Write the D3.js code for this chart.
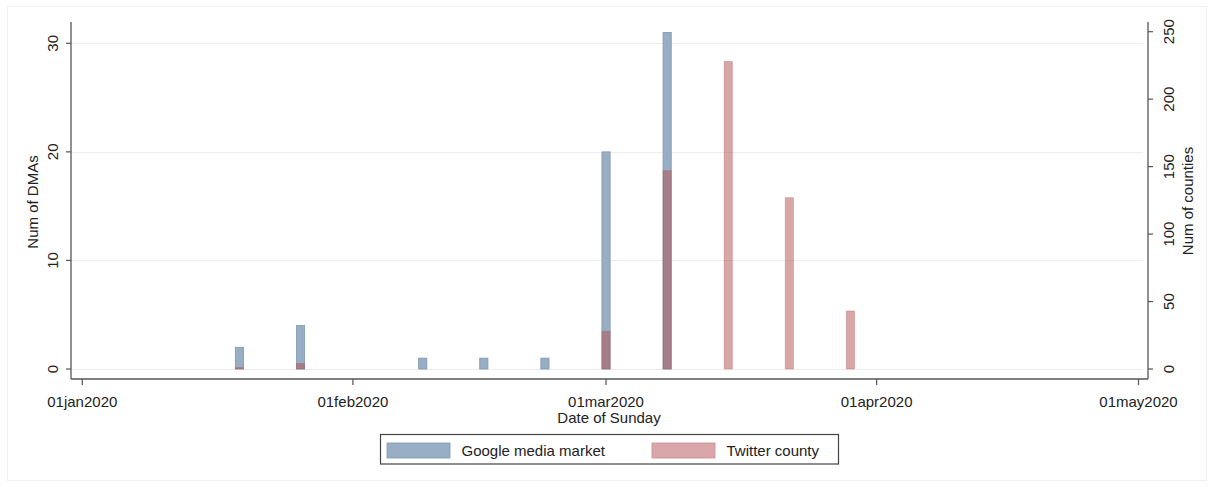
<!DOCTYPE html>
<html>
<head>
<meta charset="utf-8">
<script src="https://cdn.jsdelivr.net/npm/d3@7"></script>
<style>
  html, body { margin: 0; padding: 0; background: #fff; }
  svg { display: block; font-family: "Liberation Sans", Arial, sans-serif; }
</style>
</head>
<body>
<svg id="chart" width="1214" height="487"></svg>
<script>
// ---- data ----
const weeks = ["2020-01-19","2020-01-26","2020-02-09","2020-02-16","2020-02-23","2020-03-01","2020-03-08","2020-03-15","2020-03-22","2020-03-29"];
const googleDMAs = [2, 4, 1, 1, 1, 20, 31, 0, 0, 0];
const twitterCounties = [1, 4, 0, 0, 0, 28, 147, 228, 127, 43];
const xTickLabels = ["01jan2020","01feb2020","01mar2020","01apr2020","01may2020"];
const xTickDates = ["2020-01-01","2020-02-01","2020-03-01","2020-04-01","2020-05-01"];
const leftTicks = [0, 10, 20, 30];
const rightTicks = [0, 50, 100, 150, 200, 250];
const seriesNames = ["Google media market", "Twitter county"];

// ---- layout ----
const svg = d3.select("#chart");
const parse = d3.utcParse("%Y-%m-%d");
const axisColor = "#555";
const plotL = 71, plotR = 1148, plotB = 379, plotT = 22;

const x = d3.scaleUtc()
  .domain([parse("2020-01-01"), parse("2020-05-01")])
  .range([82.3, 1138.5]);
const yL = d3.scaleLinear().domain([0, 30]).range([369, 43.3]);
const yR = d3.scaleLinear().domain([0, 250]).range([369, 31.7]);

// outer faint frame
svg.append("rect").attr("x", 7.5).attr("y", 6.5).attr("width", 1199).attr("height", 474)
  .attr("fill", "none").attr("stroke", "#f0f0f0").attr("stroke-width", 1);

// gridlines
svg.append("g").selectAll("line").data(leftTicks).join("line")
  .attr("x1", plotL + 1).attr("x2", 1143)
  .attr("y1", d => Math.round(yL(d)) + 0.5).attr("y2", d => Math.round(yL(d)) + 0.5)
  .attr("stroke", "#ececec").attr("stroke-width", 1.2);

// bars
const barW = 8.2;
const bars = svg.append("g");
bars.selectAll("rect.g").data(weeks.map((w, i) => ({d: parse(w), v: googleDMAs[i]})).filter(o => o.v > 0))
  .join("rect").attr("class", "g")
  .attr("x", o => x(o.d) - barW / 2).attr("width", barW)
  .attr("y", o => yL(o.v)).attr("height", o => yL(0) - yL(o.v))
  .attr("fill", "rgb(152,174,196)").attr("stroke", "rgb(128,150,174)").attr("stroke-width", 0.8);
bars.selectAll("rect.t").data(weeks.map((w, i) => ({d: parse(w), v: twitterCounties[i]})).filter(o => o.v > 0))
  .join("rect").attr("class", "t")
  .attr("x", o => x(o.d) - barW / 2).attr("width", barW)
  .attr("y", o => yR(o.v)).attr("height", o => yR(0) - yR(o.v))
  .attr("fill", "rgb(177,78,78)").attr("fill-opacity", 0.5)
  .attr("stroke", "rgb(177,78,78)").attr("stroke-opacity", 0.35).attr("stroke-width", 0.8);

// axes lines
const axes = svg.append("g").attr("stroke", axisColor).attr("stroke-width", 1.3);
axes.append("line").attr("x1", plotL).attr("x2", plotL).attr("y1", plotT).attr("y2", plotB);
axes.append("line").attr("x1", plotR).attr("x2", plotR).attr("y1", plotT).attr("y2", plotB);
axes.append("line").attr("x1", plotL).attr("x2", plotR).attr("y1", plotB).attr("y2", plotB);

// left ticks
const lt = svg.append("g");
lt.selectAll("line").data(leftTicks).join("line")
  .attr("x1", plotL - 5).attr("x2", plotL).attr("y1", d => yL(d)).attr("y2", d => yL(d))
  .attr("stroke", axisColor).attr("stroke-width", 1.2);
lt.selectAll("text").data(leftTicks).join("text")
  .attr("transform", d => `translate(52.5,${yL(d)}) rotate(-90)`)
  .attr("text-anchor", "middle").attr("dy", "0.35em")
  .attr("font-size", 15).attr("fill", "#222").text(d => d);

// right ticks
const rt = svg.append("g");
rt.selectAll("line").data(rightTicks).join("line")
  .attr("x1", plotR).attr("x2", plotR + 5).attr("y1", d => yR(d)).attr("y2", d => yR(d))
  .attr("stroke", axisColor).attr("stroke-width", 1.2);
rt.selectAll("text").data(rightTicks).join("text")
  .attr("transform", d => `translate(1168.5,${yR(d)}) rotate(-90)`)
  .attr("text-anchor", "middle").attr("dy", "0.35em")
  .attr("font-size", 15).attr("fill", "#222").text(d => d);

// bottom ticks
const bt = svg.append("g");
bt.selectAll("line").data(xTickDates).join("line")
  .attr("x1", d => x(parse(d))).attr("x2", d => x(parse(d)))
  .attr("y1", plotB).attr("y2", plotB + 6)
  .attr("stroke", axisColor).attr("stroke-width", 1.2);
bt.selectAll("text").data(xTickDates).join("text")
  .attr("x", d => x(parse(d))).attr("y", 407)
  .attr("text-anchor", "middle").attr("font-size", 15).attr("fill", "#222")
  .text((d, i) => xTickLabels[i]);

// axis titles
svg.append("text").attr("x", 609).attr("y", 422.5).attr("text-anchor", "middle")
  .attr("font-size", 15).attr("fill", "#222").text("Date of Sunday");
svg.append("text").attr("transform", "translate(33,202) rotate(-90)")
  .attr("text-anchor", "middle").attr("dy", "0.35em")
  .attr("font-size", 15).attr("fill", "#222").text("Num of DMAs");
svg.append("text").attr("transform", "translate(1187.5,201) rotate(-90)")
  .attr("text-anchor", "middle").attr("dy", "0.35em")
  .attr("font-size", 15).attr("fill", "#222").text("Num of counties");

// legend
const lg = svg.append("g");
lg.append("rect").attr("x", 380.5).attr("y", 434.5).attr("width", 458).attr("height", 29.5)
  .attr("fill", "#fff").attr("stroke", "#444").attr("stroke-width", 1.2);
const swX = [387, 652];
const txX = [461.5, 726.5];
const swFill = ["rgb(152,174,196)", "rgb(217,166,170)"];
const swStroke = ["rgb(128,150,174)", "rgb(200,140,145)"];
seriesNames.forEach((name, i) => {
  lg.append("rect").attr("x", swX[i]).attr("y", 443).attr("width", 63).attr("height", 15)
    .attr("fill", swFill[i]).attr("stroke", swStroke[i]).attr("stroke-width", 0.8);
  lg.append("text").attr("x", txX[i]).attr("y", 456).attr("font-size", 15).attr("fill", "#222").text(name);
});
</script>
</body>
</html>
